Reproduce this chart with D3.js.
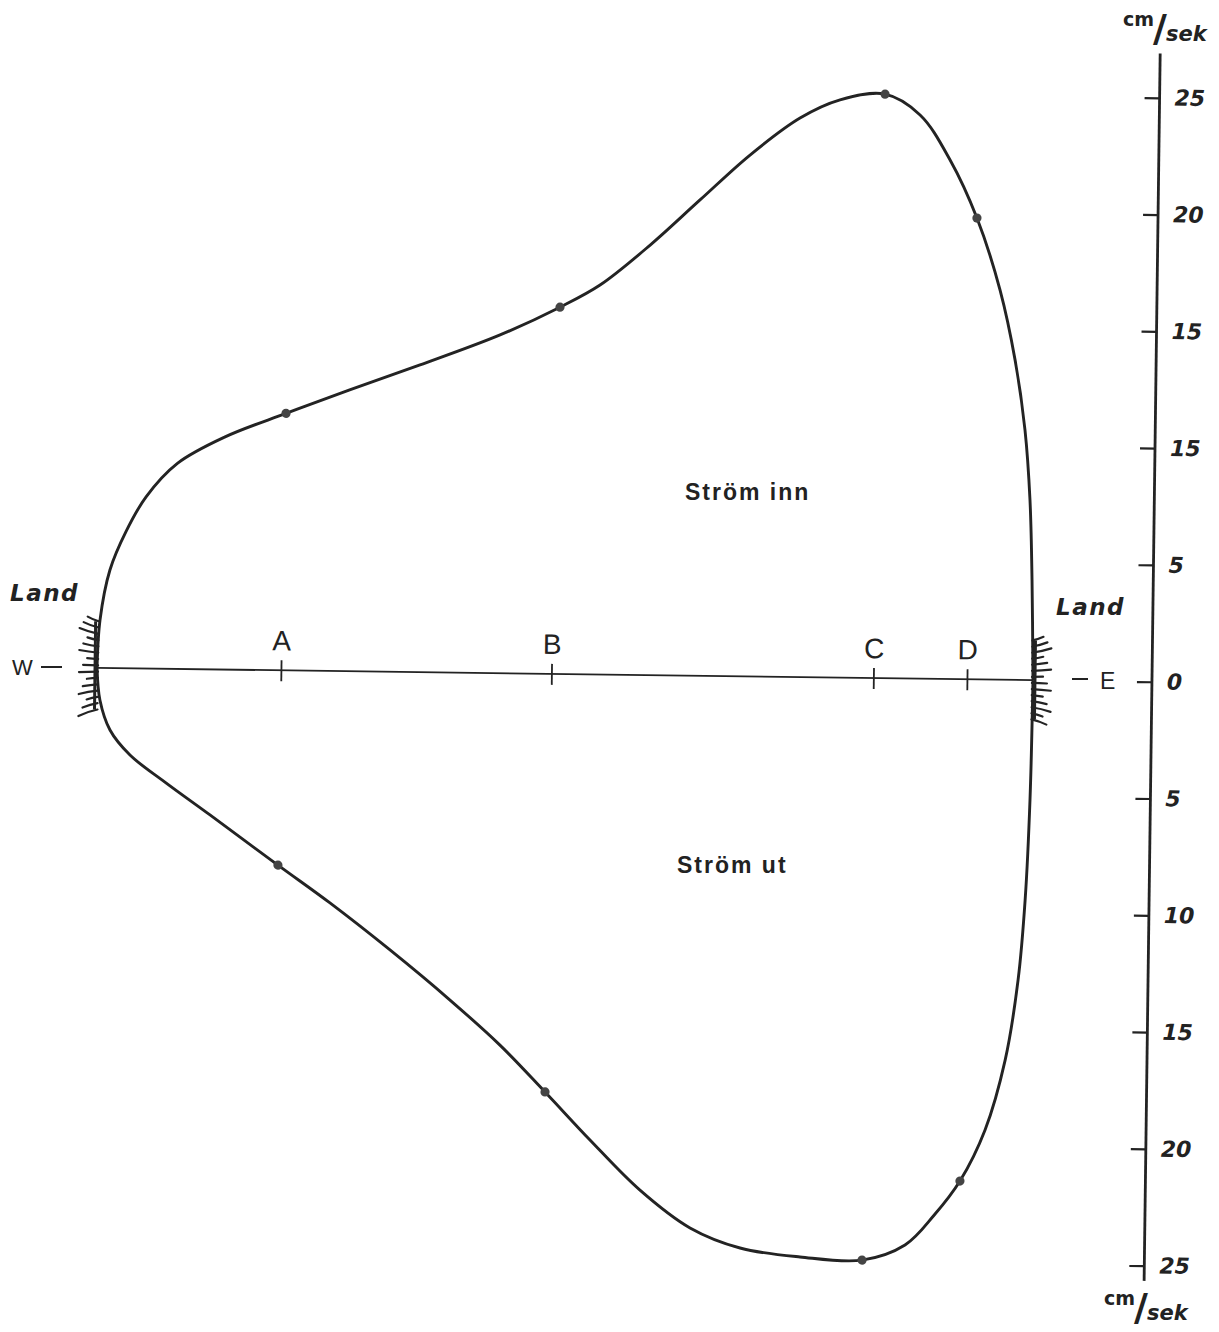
<!DOCTYPE html>
<html><head><meta charset="utf-8">
<script src="https://cdn.jsdelivr.net/npm/d3@7"></script>
<style>
html,body{margin:0;padding:0;background:#fff;}
text{fill:#222;}
</style></head>
<body>
<script>
// ---- data ----
// relative position across the section, W (0) to E (100); speeds in cm/sek
const inflowX = [0,0.25,1.24,2.9,5.0,8.3,13.3,19.83,26.6,34.08,42.59,48.95,53.2,58.5,63.76,69.04,74.33,78.58,83.38,87.15,90.42,93.37,95.94,97.64,98.8,99.43,99.76,100];
const inflowV = [0,2.05,4.2,5.85,7.35,8.8,9.95,11.0,12.04,13.15,14.48,15.7,16.67,18.41,20.37,22.32,23.93,24.73,25.0,24.13,22.22,19.75,16.68,13.7,10.7,7.71,4.29,0];
const outflowX = [0,0.35,1.47,3.64,7.41,12.27,19.6,25.21,31.69,38.17,43.57,48.45,53.32,58.73,64.13,69.5,75.92,82.55,87.12,90.2,92.9,95.51,97.56,98.83,99.47,99.85,100];
const outflowV = [0,1.37,2.65,3.71,4.85,6.23,8.34,9.93,11.91,14.02,15.92,17.9,19.93,22.05,23.64,24.47,24.82,24.92,24.25,22.95,21.48,19.28,16.28,12.84,9.42,5.13,0];
const stations = ["A","B","C","D"];
const stationPos = [19.7,48.6,83.0,93.0];
const inflowMarkX = [19.83,48.95,83.38,93.37];
const inflowMarkV = [11.0,15.7,25.0,19.75];
const outflowMarkX = [19.6,48.45,82.55,92.9];
const outflowMarkV = [8.34,17.9,24.92,21.48];
const tickValues = [25,20,15,10,5,0,-5,-10,-15,-20,-25];
const tickLabels = ["25","20","15","15","5","0","5","10","15","20","25"];
const unitLabel = ["cm","/","sek"];

// ---- drawing ----
const W = 1219, H = 1332;
const svg = d3.select("body").append("svg").attr("width",W).attr("height",H);
svg.append("rect").attr("width",W).attr("height",H).attr("fill","#fff");

const g = svg.append("g").attr("transform","rotate(0.75,600,674.5)");
const x = d3.scaleLinear().domain([0,100]).range([97,1033]);
const y = d3.scaleLinear().domain([-25,25]).range([674.5+584, 674.5-584]);
const ink = "#232323";

const line = d3.line().x(d=>x(d[0])).y(d=>y(d[1])).curve(d3.curveCatmullRom.alpha(0.5));
const upper = inflowX.map((v,i)=>[v, inflowV[i]]);
const lower = outflowX.map((v,i)=>[v, -outflowV[i]]);
g.append("path").attr("d",line(upper)).attr("fill","none").attr("stroke",ink).attr("stroke-width",2.9);
g.append("path").attr("d",line(lower)).attr("fill","none").attr("stroke",ink).attr("stroke-width",2.9);

// baseline
g.append("line").attr("x1",x(0)).attr("x2",x(100)).attr("y1",y(0)).attr("y2",y(0))
  .attr("stroke",ink).attr("stroke-width",1.8);

// stations
stations.forEach((s,i)=>{
  const sx = x(stationPos[i]);
  g.append("line").attr("x1",sx).attr("x2",sx).attr("y1",y(0)-10).attr("y2",y(0)+11)
    .attr("stroke",ink).attr("stroke-width",1.8);
  g.append("text").attr("x",sx).attr("y",y(0)-20).attr("text-anchor","middle")
    .attr("font-family","Liberation Sans").attr("font-size",28).text(s);
  g.append("circle").attr("cx",x(inflowMarkX[i])).attr("cy",y(inflowMarkV[i])).attr("r",4.6).attr("fill","#444");
  g.append("circle").attr("cx",x(outflowMarkX[i])).attr("cy",y(-outflowMarkV[i])).attr("r",4.6).attr("fill","#444");
});

// shore hatching
function hatch(side, vals){
  vals.forEach((v,i)=>{
    const len = 11 + (i%3)*4;
    const x0 = side<0 ? x(0)+1 : x(100)-1;
    const slope = -v*0.4;
    g.append("path")
      .attr("d",`M${x0},${y(v)} Q${x0+side*len*0.5},${y(v)+slope*len*0.15} ${x0+side*len},${y(v)+slope*len/2}`)
      .attr("fill","none").attr("stroke",ink).attr("stroke-width",2.2).attr("stroke-linecap","round");
  });
  const x0 = side<0 ? x(0) : x(100);
  g.append("line").attr("x1",x0+side*2).attr("x2",x0+side*2).attr("y1",y(vals[0])).attr("y2",y(vals[vals.length-1]))
    .attr("stroke",ink).attr("stroke-width",3);
}
hatch(-1, d3.range(2.0,-1.8,-0.27));
hatch(1, d3.range(1.7,-1.7,-0.26));

// right axis
const axisX = 1152;
const ax = g.append("g").attr("transform",`translate(${axisX},0)`)
  .call(d3.axisRight(y).tickValues(tickValues).tickFormat((d,i)=>tickLabels[i])
    .tickSizeInner(-15).tickSizeOuter(0).tickPadding(15));
ax.select(".domain").remove();
ax.selectAll(".tick line").attr("stroke",ink).attr("stroke-width",2.2);
ax.selectAll(".tick text").attr("font-family","DejaVu Sans").attr("font-style","italic")
  .attr("font-weight","bold").attr("font-size",22).attr("fill","#2a2a2a");
g.append("line").attr("x1",axisX).attr("x2",axisX).attr("y1",y(26.9)).attr("y2",y(-25.65))
  .attr("stroke",ink).attr("stroke-width",2.8);

// labels
const lab = svg.append("g").attr("font-family","DejaVu Sans");
lab.append("text").attr("x",10).attr("y",601).attr("font-style","italic").attr("font-weight","bold").attr("font-size",23)
  .attr("letter-spacing",1.5).attr("fill","#2a2a2a").text("Land");
lab.append("text").attr("x",1056).attr("y",615).attr("font-style","italic").attr("font-weight","bold").attr("font-size",23)
  .attr("letter-spacing",1.5).attr("fill","#2a2a2a").text("Land");
lab.append("text").attr("x",12).attr("y",675).attr("font-family","Liberation Sans").attr("font-size",22).text("W");
lab.append("line").attr("x1",41).attr("x2",62).attr("y1",667).attr("y2",667).attr("stroke",ink).attr("stroke-width",2);
lab.append("line").attr("x1",1072).attr("x2",1088).attr("y1",679).attr("y2",679).attr("stroke",ink).attr("stroke-width",2);
lab.append("text").attr("x",1100).attr("y",689).attr("font-family","Liberation Sans").attr("font-size",23).text("E");

lab.append("text").attr("x",685).attr("y",500).attr("font-family","Liberation Sans").attr("font-weight","bold")
  .attr("font-size",23).attr("letter-spacing",2).attr("fill","#1e1e1e").text("Ström  inn");
lab.append("text").attr("x",677).attr("y",873).attr("font-family","Liberation Sans").attr("font-weight","bold")
  .attr("font-size",23).attr("letter-spacing",2).attr("fill","#1e1e1e").text("Ström  ut");

function unit(x0, yb){
  const t = lab.append("text").attr("x",x0).attr("y",yb).attr("font-weight","bold").attr("fill","#2a2a2a");
  t.append("tspan").attr("font-size",19).attr("dy",-15).text(unitLabel[0]);
  t.append("tspan").attr("font-size",38).attr("dy",15).attr("dx",-1).text(unitLabel[1]);
  t.append("tspan").attr("font-size",21).attr("font-style","italic").attr("dx",-1).text(unitLabel[2]);
}
unit(1123, 41);
unit(1104, 1320);
</script>
</body></html>
